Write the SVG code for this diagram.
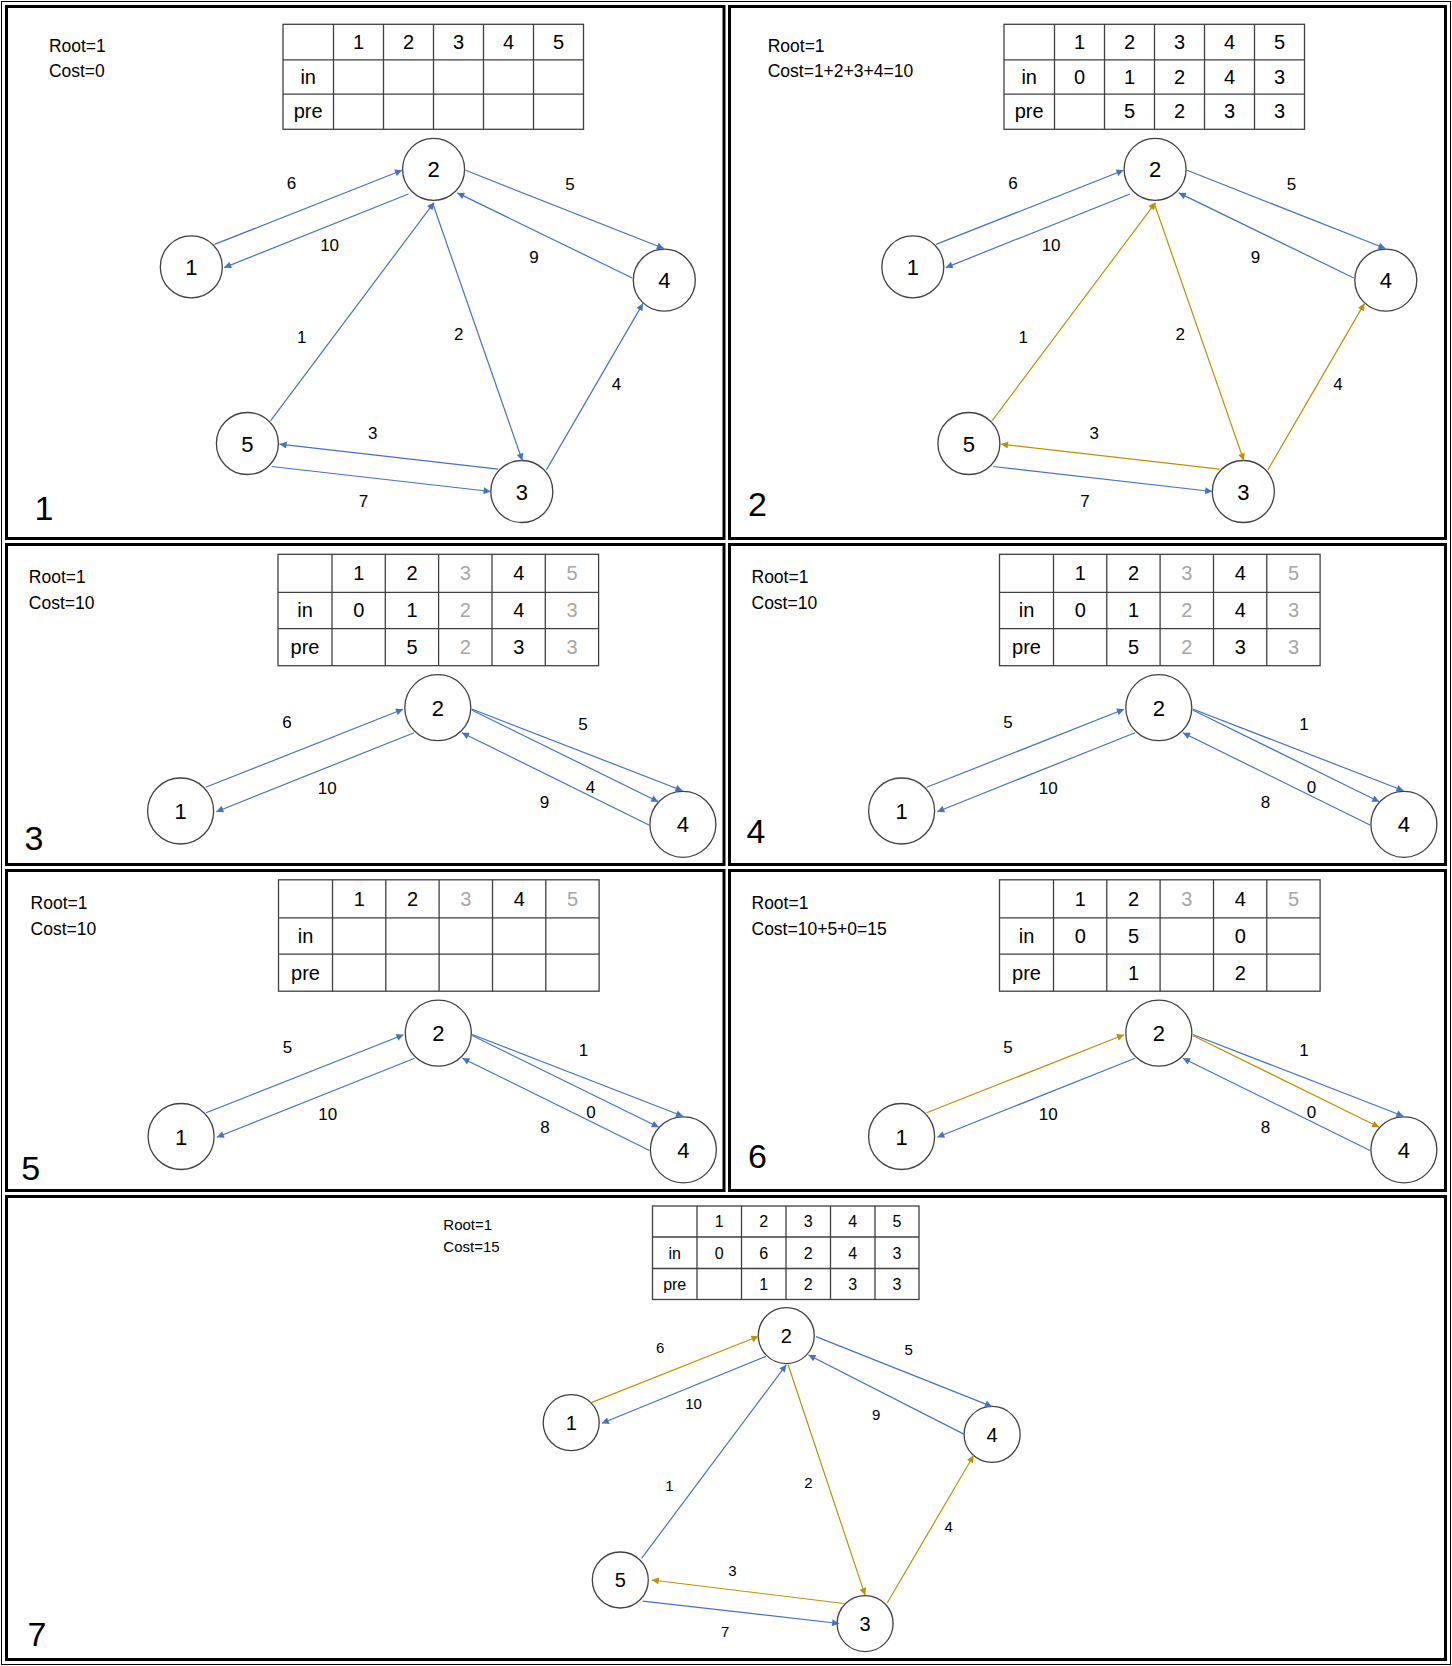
<svg xmlns="http://www.w3.org/2000/svg" width="1452" height="1666" viewBox="0 0 1452 1666">
<style>
.t{font-family:"Liberation Sans",Arial,sans-serif;fill:#000}
.info{font-size:17.5px}
.info7{font-size:15px}
.th{font-size:20px;text-anchor:middle}
.th7{font-size:16px;text-anchor:middle}
.gr{fill:#A6A6A6}
.nl{font-size:22px;text-anchor:middle}
.nl7{font-size:20px;text-anchor:middle}
.el{font-size:17px;text-anchor:middle}
.el7{font-size:15px;text-anchor:middle}
.pn{font-size:34px;text-anchor:middle}
.e{fill:none;stroke-width:1.2}
.b{stroke:#4472C4;marker-end:url(#ab)}
.g{stroke:#BF9000;marker-end:url(#ag)}
.node{fill:#fff;stroke:#404040;stroke-width:1.3}
.grid{fill:none;stroke:#404040;stroke-width:1.3}
.frame{fill:none;stroke:#000;stroke-width:3}
</style>
<defs>
<marker id="ab" viewBox="0 0 10 10" refX="10" refY="5" markerWidth="9" markerHeight="7" markerUnits="userSpaceOnUse" orient="auto"><path d="M0,0 L10,5 L0,10 z" fill="#4472C4"/></marker>
<marker id="ag" viewBox="0 0 10 10" refX="10" refY="5" markerWidth="9" markerHeight="7" markerUnits="userSpaceOnUse" orient="auto"><path d="M0,0 L10,5 L0,10 z" fill="#BF9000"/></marker>
<g id="gridA">
<rect class="grid" x="0" y="0" width="300.5" height="105"/>
<path class="grid" d="M50.5,0V105M100.5,0V105M150.5,0V105M200.5,0V105M250.5,0V105M0,35.5H300.5M0,69.9H300.5"/>
</g>
<g id="gridB">
<rect class="grid" x="0" y="0" width="320.6" height="111.4"/>
<path class="grid" d="M54,0V111.4M107.3,0V111.4M160.6,0V111.4M214,0V111.4M267.3,0V111.4M0,38H320.6M0,74.4H320.6"/>
</g>
</defs>
<rect x="0" y="0" width="1452" height="1666" fill="#fff"/>
<rect x="1.5" y="1.5" width="1449" height="1663" fill="none" stroke="#000" stroke-width="1"/>

<!-- PANEL 1 -->
<g id="panel-1">
<rect class="frame" x="6.5" y="6.5" width="717.5" height="532"/>
<text class="t info" x="48.9" y="52">Root=1</text>
<text class="t info" x="48.9" y="76.5">Cost=0</text>
<g id="p1-table" transform="translate(283,24.3)">
<use href="#gridA"/>
<text class="t th" x="75.5" y="25">1</text><text class="t th" x="125.5" y="25">2</text><text class="t th" x="175.5" y="25">3</text><text class="t th" x="225.5" y="25">4</text><text class="t th" x="275.5" y="25">5</text>
<text class="t th" x="25.2" y="60">in</text>
<text class="t th" x="25.2" y="94">pre</text>
</g>
<g id="p1-node-1"><circle class="node" cx="191.3" cy="266.9" r="31"/><text class="t nl" x="191.3" y="275">1</text></g>
<g id="p1-node-2"><circle class="node" cx="433.6" cy="169.3" r="31"/><text class="t nl" x="433.6" y="177.4">2</text></g>
<g id="p1-node-3"><circle class="node" cx="521.8" cy="491.5" r="31"/><text class="t nl" x="521.8" y="499.6">3</text></g>
<g id="p1-node-4"><circle class="node" cx="664.3" cy="280.2" r="31"/><text class="t nl" x="664.3" y="288.3">4</text></g>
<g id="p1-node-5"><circle class="node" cx="247.4" cy="443.5" r="31"/><text class="t nl" x="247.4" y="451.6">5</text></g>
<g id="p1-connectors">
<path class="e b" d="M214.5,244.4 L402,170.3"/>
<path class="e b" d="M408.5,194 L224.2,267.6"/>
<path class="e b" d="M465.6,170.3 L663.9,248.5"/>
<path class="e b" d="M632.3,278 L457.3,192.9"/>
<path class="e b" d="M270.7,420.6 L434,202.6"/>
<path class="e b" d="M432.7,203.3 L522.3,460.5"/>
<path class="e b" d="M546.4,469.9 L643,303.4"/>
<path class="e b" d="M498.1,469.2 L279.5,444.2"/>
<path class="e b" d="M271.6,466.5 L490.7,491.5"/>
<text class="t el" x="291.5" y="188.5">6</text>
<text class="t el" x="329.6" y="251">10</text>
<text class="t el" x="570" y="190.2">5</text>
<text class="t el" x="533.9" y="263.2">9</text>
<text class="t el" x="301.8" y="343.2">1</text>
<text class="t el" x="458.7" y="339.7">2</text>
<text class="t el" x="616.5" y="390.1">4</text>
<text class="t el" x="372.8" y="439.4">3</text>
<text class="t el" x="363.5" y="507.2">7</text>
</g>
<text class="t pn" x="44" y="520">1</text>
</g>

<!-- PANEL 2 -->
<g id="panel-2">
<rect class="frame" x="729.5" y="6.5" width="716" height="532"/>
<text class="t info" x="767.7" y="52">Root=1</text>
<text class="t info" x="767.7" y="76.5">Cost=1+2+3+4=10</text>
<g id="p2-table" transform="translate(1004,24.3)">
<use href="#gridA"/>
<text class="t th" x="75.5" y="25">1</text><text class="t th" x="125.5" y="25">2</text><text class="t th" x="175.5" y="25">3</text><text class="t th" x="225.5" y="25">4</text><text class="t th" x="275.5" y="25">5</text>
<text class="t th" x="25.2" y="60">in</text>
<text class="t th" x="75.5" y="60">0</text><text class="t th" x="125.5" y="60">1</text><text class="t th" x="175.5" y="60">2</text><text class="t th" x="225.5" y="60">4</text><text class="t th" x="275.5" y="60">3</text>
<text class="t th" x="25.2" y="94">pre</text>
<text class="t th" x="125.5" y="94">5</text><text class="t th" x="175.5" y="94">2</text><text class="t th" x="225.5" y="94">3</text><text class="t th" x="275.5" y="94">3</text>
</g>
<g transform="translate(721.5,0)">
<g id="p2-node-1"><circle class="node" cx="191.3" cy="266.9" r="31"/><text class="t nl" x="191.3" y="275">1</text></g>
<g id="p2-node-2"><circle class="node" cx="433.6" cy="169.3" r="31"/><text class="t nl" x="433.6" y="177.4">2</text></g>
<g id="p2-node-3"><circle class="node" cx="521.8" cy="491.5" r="31"/><text class="t nl" x="521.8" y="499.6">3</text></g>
<g id="p2-node-4"><circle class="node" cx="664.3" cy="280.2" r="31"/><text class="t nl" x="664.3" y="288.3">4</text></g>
<g id="p2-node-5"><circle class="node" cx="247.4" cy="443.5" r="31"/><text class="t nl" x="247.4" y="451.6">5</text></g>
<g id="p2-connectors">
<path class="e b" d="M214.5,244.4 L402,170.3"/>
<path class="e b" d="M408.5,194 L224.2,267.6"/>
<path class="e b" d="M465.6,170.3 L663.9,248.5"/>
<path class="e b" d="M632.3,278 L457.3,192.9"/>
<path class="e g" d="M270.7,420.6 L434,202.6"/>
<path class="e g" d="M432.7,203.3 L522.3,460.5"/>
<path class="e g" d="M546.4,469.9 L643,303.4"/>
<path class="e g" d="M498.1,469.2 L279.5,444.2"/>
<path class="e b" d="M271.6,466.5 L490.7,491.5"/>
<text class="t el" x="291.5" y="188.5">6</text>
<text class="t el" x="329.6" y="251">10</text>
<text class="t el" x="570" y="190.2">5</text>
<text class="t el" x="533.9" y="263.2">9</text>
<text class="t el" x="301.8" y="343.2">1</text>
<text class="t el" x="458.7" y="339.7">2</text>
<text class="t el" x="616.5" y="390.1">4</text>
<text class="t el" x="372.8" y="439.4">3</text>
<text class="t el" x="363.5" y="507.2">7</text>
</g>
</g>
<text class="t pn" x="757.5" y="516">2</text>
</g>

<!-- PANEL 3 -->
<g id="panel-3">
<rect class="frame" x="6.5" y="544.5" width="717.5" height="320"/>
<text class="t info" x="28.8" y="583.3">Root=1</text>
<text class="t info" x="28.8" y="609">Cost=10</text>
<g id="p3-table" transform="translate(278,554.3)">
<use href="#gridB"/>
<text class="t th" x="80.7" y="26">1</text><text class="t th" x="134" y="26">2</text><text class="t th gr" x="187.3" y="26">3</text><text class="t th" x="240.7" y="26">4</text><text class="t th gr" x="294" y="26">5</text>
<text class="t th" x="27" y="63.2">in</text>
<text class="t th" x="80.7" y="63.2">0</text><text class="t th" x="134" y="63.2">1</text><text class="t th gr" x="187.3" y="63.2">2</text><text class="t th" x="240.7" y="63.2">4</text><text class="t th gr" x="294" y="63.2">3</text>
<text class="t th" x="27" y="99.9">pre</text>
<text class="t th" x="134" y="99.9">5</text><text class="t th gr" x="187.3" y="99.9">2</text><text class="t th" x="240.7" y="99.9">3</text><text class="t th gr" x="294" y="99.9">3</text>
</g>
<g id="p3-node-1"><circle class="node" cx="180.6" cy="811" r="33"/><text class="t nl" x="180.6" y="819">1</text></g>
<g id="p3-node-2"><circle class="node" cx="437.8" cy="707.7" r="33"/><text class="t nl" x="437.8" y="715.7">2</text></g>
<g id="p3-node-4"><circle class="node" cx="682.9" cy="824.3" r="33"/><text class="t nl" x="682.9" y="832.3">4</text></g>
<g id="p3-connectors">
<path class="e b" d="M205.7,787.3 L403,709.3"/>
<path class="e b" d="M414.1,732.7 L216.3,811.7"/>
<path class="e b" d="M471.7,709 L682.5,790.7"/>
<path class="e b" d="M471.7,710 L658.3,801.7"/>
<path class="e b" d="M649,825 L461.9,732.7"/>
<text class="t el" x="287" y="727.7">6</text>
<text class="t el" x="327.3" y="794.3">10</text>
<text class="t el" x="583.1" y="730.3">5</text>
<text class="t el" x="590.5" y="792.7">4</text>
<text class="t el" x="544.6" y="807.7">9</text>
</g>
<text class="t pn" x="33.9" y="850">3</text>
</g>

<!-- PANEL 4 -->
<g id="panel-4">
<rect class="frame" x="729.5" y="544.5" width="716" height="320"/>
<text class="t info" x="751.5" y="583.3">Root=1</text>
<text class="t info" x="751.5" y="609">Cost=10</text>
<g id="p4-table" transform="translate(999.5,554.3)">
<use href="#gridB"/>
<text class="t th" x="80.7" y="26">1</text><text class="t th" x="134" y="26">2</text><text class="t th gr" x="187.3" y="26">3</text><text class="t th" x="240.7" y="26">4</text><text class="t th gr" x="294" y="26">5</text>
<text class="t th" x="27" y="63.2">in</text>
<text class="t th" x="80.7" y="63.2">0</text><text class="t th" x="134" y="63.2">1</text><text class="t th gr" x="187.3" y="63.2">2</text><text class="t th" x="240.7" y="63.2">4</text><text class="t th gr" x="294" y="63.2">3</text>
<text class="t th" x="27" y="99.9">pre</text>
<text class="t th" x="134" y="99.9">5</text><text class="t th gr" x="187.3" y="99.9">2</text><text class="t th" x="240.7" y="99.9">3</text><text class="t th gr" x="294" y="99.9">3</text>
</g>
<g transform="translate(721,0)">
<g id="p4-node-1"><circle class="node" cx="180.6" cy="811" r="33"/><text class="t nl" x="180.6" y="819">1</text></g>
<g id="p4-node-2"><circle class="node" cx="437.8" cy="707.7" r="33"/><text class="t nl" x="437.8" y="715.7">2</text></g>
<g id="p4-node-4"><circle class="node" cx="682.9" cy="824.3" r="33"/><text class="t nl" x="682.9" y="832.3">4</text></g>
<g id="p4-connectors">
<path class="e b" d="M205.7,787.3 L403,709.3"/>
<path class="e b" d="M414.1,732.7 L216.3,811.7"/>
<path class="e b" d="M471.7,709 L682.5,790.7"/>
<path class="e b" d="M471.7,710 L658.3,801.7"/>
<path class="e b" d="M649,825 L461.9,732.7"/>
<text class="t el" x="287" y="727.7">5</text>
<text class="t el" x="327.3" y="794.3">10</text>
<text class="t el" x="583.1" y="730.3">1</text>
<text class="t el" x="590.5" y="792.7">0</text>
<text class="t el" x="544.6" y="807.7">8</text>
</g>
</g>
<text class="t pn" x="756" y="843">4</text>
</g>

<!-- PANEL 5 -->
<g id="panel-5">
<rect class="frame" x="6.5" y="870.5" width="717.5" height="320"/>
<text class="t info" x="30.6" y="908.8">Root=1</text>
<text class="t info" x="30.6" y="934.5">Cost=10</text>
<g id="p5-table" transform="translate(278.5,879.8)">
<use href="#gridB"/>
<text class="t th" x="80.7" y="26">1</text><text class="t th" x="134" y="26">2</text><text class="t th gr" x="187.3" y="26">3</text><text class="t th" x="240.7" y="26">4</text><text class="t th gr" x="294" y="26">5</text>
<text class="t th" x="27" y="63.2">in</text>
<text class="t th" x="27" y="99.9">pre</text>
</g>
<g transform="translate(0.5,325.5)">
<g id="p5-node-1"><circle class="node" cx="180.6" cy="811" r="33"/><text class="t nl" x="180.6" y="819">1</text></g>
<g id="p5-node-2"><circle class="node" cx="437.8" cy="707.7" r="33"/><text class="t nl" x="437.8" y="715.7">2</text></g>
<g id="p5-node-4"><circle class="node" cx="682.9" cy="824.3" r="33"/><text class="t nl" x="682.9" y="832.3">4</text></g>
<g id="p5-connectors">
<path class="e b" d="M205.7,787.3 L403,709.3"/>
<path class="e b" d="M414.1,732.7 L216.3,811.7"/>
<path class="e b" d="M471.7,709 L682.5,790.7"/>
<path class="e b" d="M471.7,710 L658.3,801.7"/>
<path class="e b" d="M649,825 L461.9,732.7"/>
<text class="t el" x="287" y="727.7">5</text>
<text class="t el" x="327.3" y="794.3">10</text>
<text class="t el" x="583.1" y="730.3">1</text>
<text class="t el" x="590.5" y="792.7">0</text>
<text class="t el" x="544.6" y="807.7">8</text>
</g>
</g>
<text class="t pn" x="30.6" y="1180">5</text>
</g>

<!-- PANEL 6 -->
<g id="panel-6">
<rect class="frame" x="729.5" y="870.5" width="716" height="320"/>
<text class="t info" x="751.5" y="908.8">Root=1</text>
<text class="t info" x="751.5" y="934.5">Cost=10+5+0=15</text>
<g id="p6-table" transform="translate(999.5,879.8)">
<use href="#gridB"/>
<text class="t th" x="80.7" y="26">1</text><text class="t th" x="134" y="26">2</text><text class="t th gr" x="187.3" y="26">3</text><text class="t th" x="240.7" y="26">4</text><text class="t th gr" x="294" y="26">5</text>
<text class="t th" x="27" y="63.2">in</text>
<text class="t th" x="80.7" y="63.2">0</text><text class="t th" x="134" y="63.2">5</text><text class="t th" x="240.7" y="63.2">0</text>
<text class="t th" x="27" y="99.9">pre</text>
<text class="t th" x="134" y="99.9">1</text><text class="t th" x="240.7" y="99.9">2</text>
</g>
<g transform="translate(721,325.5)">
<g id="p6-node-1"><circle class="node" cx="180.6" cy="811" r="33"/><text class="t nl" x="180.6" y="819">1</text></g>
<g id="p6-node-2"><circle class="node" cx="437.8" cy="707.7" r="33"/><text class="t nl" x="437.8" y="715.7">2</text></g>
<g id="p6-node-4"><circle class="node" cx="682.9" cy="824.3" r="33"/><text class="t nl" x="682.9" y="832.3">4</text></g>
<g id="p6-connectors">
<path class="e g" d="M205.7,787.3 L403,709.3"/>
<path class="e b" d="M414.1,732.7 L216.3,811.7"/>
<path class="e b" d="M471.7,709 L682.5,790.7"/>
<path class="e g" d="M471.7,710 L658.3,801.7"/>
<path class="e b" d="M649,825 L461.9,732.7"/>
<text class="t el" x="287" y="727.7">5</text>
<text class="t el" x="327.3" y="794.3">10</text>
<text class="t el" x="583.1" y="730.3">1</text>
<text class="t el" x="590.5" y="792.7">0</text>
<text class="t el" x="544.6" y="807.7">8</text>
</g>
</g>
<text class="t pn" x="757.5" y="1168">6</text>
</g>

<!-- PANEL 7 -->
<g id="panel-7">
<rect class="frame" x="6.5" y="1196.5" width="1439" height="463"/>
<text class="t info7" x="443.3" y="1230">Root=1</text>
<text class="t info7" x="443.3" y="1251.7">Cost=15</text>
<g id="p7-table" transform="translate(652.5,1206)">
<rect class="grid" x="0" y="0" width="266.5" height="93.5"/>
<path class="grid" d="M44.5,0V93.5M89,0V93.5M133.5,0V93.5M178,0V93.5M222.5,0V93.5M0,31H266.5M0,62.5H266.5"/>
<text class="t th7" x="66.7" y="21">1</text><text class="t th7" x="111.2" y="21">2</text><text class="t th7" x="155.7" y="21">3</text><text class="t th7" x="200.2" y="21">4</text><text class="t th7" x="244.5" y="21">5</text>
<text class="t th7" x="22.2" y="52.5">in</text>
<text class="t th7" x="66.7" y="52.5">0</text><text class="t th7" x="111.2" y="52.5">6</text><text class="t th7" x="155.7" y="52.5">2</text><text class="t th7" x="200.2" y="52.5">4</text><text class="t th7" x="244.5" y="52.5">3</text>
<text class="t th7" x="22.2" y="83.5">pre</text>
<text class="t th7" x="111.2" y="83.5">1</text><text class="t th7" x="155.7" y="83.5">2</text><text class="t th7" x="200.2" y="83.5">3</text><text class="t th7" x="244.5" y="83.5">3</text>
</g>
<g id="p7-node-1"><circle class="node" cx="571.2" cy="1422.7" r="28"/><text class="t nl7" x="571.2" y="1430">1</text></g>
<g id="p7-node-2"><circle class="node" cx="786.3" cy="1335.6" r="28"/><text class="t nl7" x="786.3" y="1342.9">2</text></g>
<g id="p7-node-3"><circle class="node" cx="865.1" cy="1623.6" r="28"/><text class="t nl7" x="865.1" y="1630.9">3</text></g>
<g id="p7-node-4"><circle class="node" cx="992.1" cy="1434.4" r="28"/><text class="t nl7" x="992.1" y="1441.7">4</text></g>
<g id="p7-node-5"><circle class="node" cx="620.3" cy="1580" r="28"/><text class="t nl7" x="620.3" y="1587.3">5</text></g>
<g id="p7-connectors">
<path class="e g" d="M590.6,1402.9 L758.5,1336.3"/>
<path class="e b" d="M765.9,1356.4 L601.8,1423.3"/>
<path class="e b" d="M816,1336.6 L992.1,1406.6"/>
<path class="e b" d="M964.3,1434.4 L808.5,1355"/>
<path class="e b" d="M641.6,1558.3 L786.3,1364.8"/>
<path class="e g" d="M788.1,1364.8 L865.1,1595.1"/>
<path class="e g" d="M887.3,1602.8 L973.6,1455.5"/>
<path class="e g" d="M843.8,1603.5 L651.8,1580"/>
<path class="e b" d="M642.6,1601.1 L839.1,1623.5"/>
<text class="t el7" x="660.2" y="1352.5">6</text>
<text class="t el7" x="693.6" y="1408.5">10</text>
<text class="t el7" x="908.7" y="1354.9">5</text>
<text class="t el7" x="876.2" y="1420.2">9</text>
<text class="t el7" x="669.5" y="1490.8">1</text>
<text class="t el7" x="808.5" y="1488.2">2</text>
<text class="t el7" x="948.6" y="1531.7">4</text>
<text class="t el7" x="732.5" y="1576.2">3</text>
<text class="t el7" x="725.1" y="1637.2">7</text>
</g>
<text class="t pn" x="37" y="1646">7</text>
</g>
</svg>
